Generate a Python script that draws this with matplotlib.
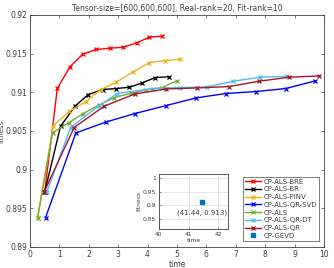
import numpy as np
import matplotlib.pyplot as plt

# datos
t_bre = [0.50, 0.93, 1.36, 1.79, 2.24, 2.72, 3.17, 3.63, 4.06, 4.49]
f_bre = [0.8971, 0.9105, 0.9133, 0.9149, 0.91553, 0.91569, 0.91582, 0.91638, 0.91712, 0.91725]

t_br = [0.50, 1.04, 1.53, 1.98, 2.47, 2.93, 3.38, 3.81, 4.26, 4.72]
f_br = [0.8971, 0.9056, 0.9082, 0.9097, 0.91035, 0.91048, 0.91065, 0.9112, 0.9119, 0.9120]

t_pinv = [0.26, 0.79, 1.34, 1.90, 2.41, 2.93, 3.51, 4.06, 4.60, 5.11]
f_pinv = [0.8938, 0.90565, 0.90755, 0.9088, 0.91035, 0.9113, 0.91263, 0.91384, 0.9141, 0.91427]

t_svd = [0.53, 1.56, 2.59, 3.57, 4.63, 5.65, 6.66, 7.68, 8.70, 9.70]
f_svd = [0.8938, 0.90474, 0.90616, 0.90725, 0.90828, 0.90927, 0.90984, 0.91009, 0.91048, 0.91147]

t_als = [0.26, 0.77, 1.33, 1.81, 2.35, 2.87, 3.42, 3.95, 4.49, 4.99]
f_als = [0.8938, 0.90477, 0.90609, 0.90725, 0.90836, 0.90932, 0.90985, 0.91030, 0.91061, 0.91147]

t_dt = [0.57, 1.38, 2.34, 2.97, 4.19, 5.10, 6.03, 6.91, 7.82, 8.73]
f_dt = [0.8971, 0.90544, 0.90823, 0.90984, 0.91048, 0.91061, 0.91069, 0.91143, 0.91194, 0.91207]

t_qr = [0.48, 1.50, 2.52, 3.57, 4.63, 5.69, 6.78, 7.80, 8.80, 9.84]
f_qr = [0.8971, 0.90544, 0.90819, 0.90978, 0.91043, 0.91056, 0.91074, 0.91143, 0.91194, 0.91211]

gevd_t = [41.44]
gevd_f = [0.913]

gris = '#404040'
plt.rcParams['font.size'] = 5.5
plt.rcParams['text.color'] = gris
plt.rcParams['axes.labelcolor'] = gris
plt.rcParams['xtick.color'] = gris
plt.rcParams['ytick.color'] = gris
plt.rcParams['axes.edgecolor'] = gris
plt.rcParams['axes.linewidth'] = 0.6

fig = plt.figure(figsize=(3.34, 2.68), dpi=100)
ax = fig.add_axes([0.0898, 0.0784, 0.880, 0.866])

kw = dict(marker='x', markersize=2.5, linewidth=1.0, markeredgewidth=0.9)
ax.plot(t_bre, f_bre, color='#ff0000', label='CP-ALS-BRE', **kw)
ax.plot(t_br, f_br, color='#000000', label='CP-ALS-BR', **kw)
ax.plot(t_pinv, f_pinv, color='#edb120', label='CP-ALS-PINV', **kw)
ax.plot(t_svd, f_svd, color='#0000ff', label='CP-ALS-QR-SVD', **kw)
ax.plot(t_als, f_als, color='#77ac30', label='CP-ALS', **kw)
ax.plot(t_dt, f_dt, color='#4dbeee', label='CP-ALS-QR-DT', **kw)
ax.plot(t_qr, f_qr, color='#a2142f', label='CP-ALS-QR', **kw)
ax.plot([], [], linestyle='none', marker='s', markersize=2.5, color='#0072bd', label='CP-GEVD')

ax.set_xlim(0, 10)
ax.set_ylim(0.89, 0.92)
ax.set_xticks(np.arange(0, 11, 1))
ax.set_yticks([0.89, 0.895, 0.9, 0.905, 0.91, 0.915, 0.92])
ax.set_yticklabels(['0.89', '0.895', '0.9', '0.905', '0.91', '0.915', '0.92'])
ax.tick_params(direction='in', length=2.5, width=0.5, top=True, right=True, pad=2)
ax.set_xlabel('time', labelpad=1)
ax.set_ylabel('fitness', fontsize=5, labelpad=0.5)
ax.set_title('Tensor-size=[600,600,600], Real-rank=20, Fit-rank=10', fontsize=5.5, pad=3)

leg = ax.legend(loc='lower right', bbox_to_anchor=(0.984, 0.026), fontsize=5,
                frameon=True, fancybox=False, edgecolor=gris, handlelength=2.2,
                labelspacing=0.25, borderpad=0.3, handletextpad=0.4, borderaxespad=0)
leg.get_frame().set_linewidth(0.6)

# grafico pequeño
ins = fig.add_axes([0.476, 0.1455, 0.207, 0.2055])
ins.plot(gevd_t, gevd_f, linestyle='none', marker='s', markersize=2.5, color='#0072bd')
ins.annotate('(%.2f, %.3f)' % (gevd_t[0], gevd_f[0]), (gevd_t[0], gevd_f[0]),
             xytext=(0, -9), textcoords='offset points', ha='center', fontsize=5)
ins.set_xlim(40, 42.33)
ins.set_ylim(0.813, 1.015)
ins.set_xticks([40, 41, 42])
ins.set_yticks([0.85, 0.9, 0.95, 1])
ins.set_yticklabels(['0.85', '0.9', '0.95', '1'])
ins.grid(True, color='#e0e0e0', linewidth=0.5)
ins.tick_params(direction='in', length=1.5, width=0.4, labelsize=4.3, pad=2)
ins.set_xlabel('time', fontsize=4.5, labelpad=1)
ins.set_ylabel('fitness', fontsize=4.3, labelpad=1)

plt.savefig('out.png', dpi=100)
